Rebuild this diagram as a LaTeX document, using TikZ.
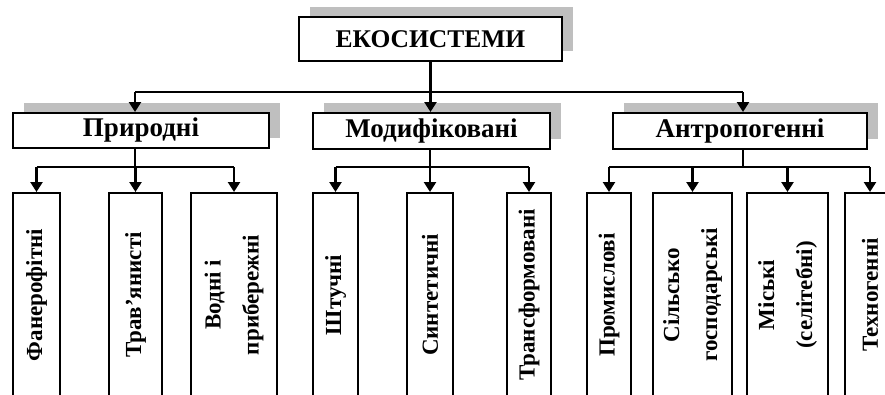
\documentclass[tikz,border=0pt]{standalone}
\usepackage{fontspec}
\setmainfont{Liberation Serif}
\usetikzlibrary{arrows.meta}
\usetikzlibrary{shadows}

\tikzset{
  box/.style={draw, line width=2pt, fill=white, inner sep=0pt, font=\bfseries},
  shbox/.style={box, drop shadow={shadow xshift=11pt, shadow yshift=10pt, fill=black!25, opacity=1}},
  leaf/.style={box, rotate=90, minimum width=204pt, align=center, font=\bfseries\fontsize{23}{38}\selectfont},
  conn/.style={line width=2.4pt},
  arr/.style={conn, -{Triangle[width=12pt,length=10pt]}}
}

\begin{document}
\begin{tikzpicture}[x=1pt,y=-1pt]

    \useasboundingbox (0,0) rectangle (885,394);

    % top level
    \node (eco) at (430.5,39) [shbox, minimum width=263pt, minimum height=44pt,
        font=\bfseries\fontsize{25.5}{28}\selectfont] {ЕКОСИСТЕМИ};

    % second level
    \node (nat) at (141,130.5) [shbox, minimum width=256pt, minimum height=35pt,
        font=\bfseries\fontsize{27}{30}\selectfont] {Природні};
    \node (mod) at (431.5,131) [shbox, minimum width=237pt, minimum height=36pt,
        font=\bfseries\fontsize{27}{30}\selectfont] {Модифіковані};
    \node (ant) at (740,131) [shbox, minimum width=254pt, minimum height=36pt,
        font=\bfseries\fontsize{27}{30}\selectfont] {Антропогенні};

    \coordinate (busL) at (135,92);
    \coordinate (busR) at (743,92);

    \draw [conn] (eco.south) -- (eco.south |- busL);
    \draw [conn] (busL) -- (busR);
    \draw [arr] (busL) -- (busL |- nat.north);
    \draw [arr] (eco.south |- busL) -- (eco.south |- mod.north);
    \draw [arr] (busR) -- (busR |- ant.north);

    % leaves (rotated, so east is the top edge)
    \node (n1) at (36.5,295) [leaf, minimum height=47pt] {Фанерофітні};
    \node (n2) at (135.5,295) [leaf, minimum height=53pt] {Трав’янисті};
    \node (n3) at (234,295) [leaf, minimum height=86pt] {Водні і\\прибережні};

    \node (m1) at (335.5,295) [leaf, minimum height=45pt] {Штучні};
    \node (m2) at (430,295) [leaf, minimum height=46pt] {Синтетичні};
    \node (m3) at (529,295) [leaf, minimum height=44pt] {Трансформовані};

    \node (a1) at (609,295) [leaf, minimum height=44pt] {Промислові};
    \node (a2) at (692.5,295) [leaf, minimum height=79pt] {Сільсько\\господарські};
    \node (a3) at (787.5,295) [leaf, minimum height=81pt] {Міські\\(селітебні)};
    \node (a4) at (870,295) [leaf, minimum height=50pt] {Техногенні};

    \coordinate (natbus) at (0,167);

    \draw [conn] (busL |- nat.south) -- (busL |- natbus);
    \draw [conn] (n1.east |- natbus) -- (n3.east |- natbus);
    \foreach \n in {n1,n2,n3}
        \draw [arr] (\n.east |- natbus) -- (\n.east);

    \draw [conn] (m2.east |- mod.south) -- (m2.east |- natbus);
    \draw [conn] (m1.east |- natbus) -- (m3.east |- natbus);
    \foreach \n in {m1,m2,m3}
        \draw [arr] (\n.east |- natbus) -- (\n.east);

    \draw [conn] (busR |- ant.south) -- (busR |- natbus);
    \draw [conn] (a1.east |- natbus) -- (a4.east |- natbus);
    \foreach \n in {a1,a2,a3,a4}
        \draw [arr] (\n.east |- natbus) -- (\n.east);

\end{tikzpicture}
\end{document}
